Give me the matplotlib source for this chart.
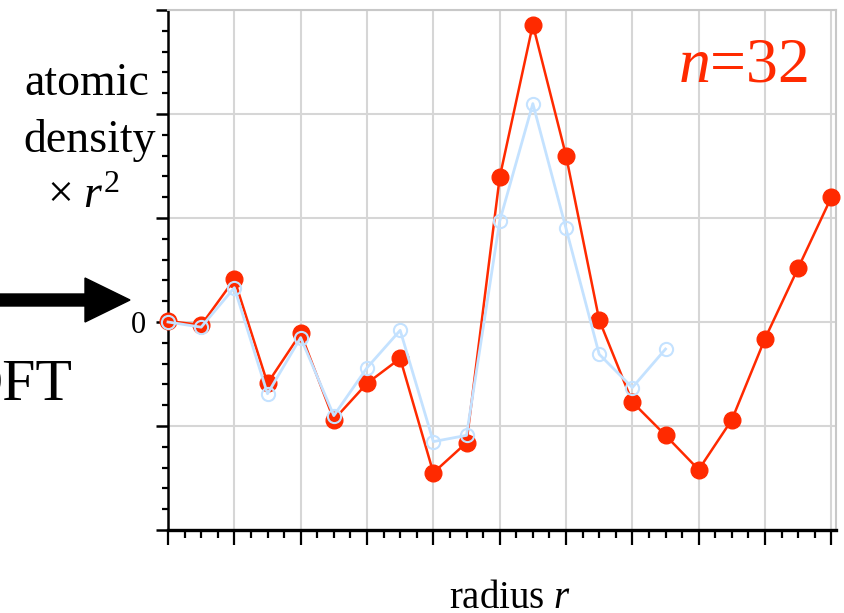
import matplotlib
matplotlib.use("Agg")
import matplotlib.pyplot as plt
from matplotlib.patches import Polygon
from matplotlib.ticker import MultipleLocator

# ---- data ----
radius_red = [i * 0.5 for i in range(21)]
density_red = [0.01, -0.03, 0.41, -0.59, -0.11, -0.94, -0.59, -0.35, -1.45, -1.16,
               1.39, 2.86, 1.60, 0.02, -0.77, -1.09, -1.42, -0.94, -0.16, 0.52, 1.20]
radius_blue = [i * 0.5 for i in range(16)]
density_blue = [0.00, -0.05, 0.33, -0.69, -0.15, -0.90, -0.44, -0.08, -1.15, -1.09,
                0.97, 2.10, 0.90, -0.31, -0.63, -0.26]
ytick_vals = [-2, -1, 0, 1, 2, 3]
ytick_labels = ['', '', '0', '', '', '']
xtick_vals = list(range(0, 11))

plt.rcParams['font.family'] = ['Liberation Serif', 'DejaVu Serif']
plt.rcParams['mathtext.fontset'] = 'custom'
plt.rcParams['mathtext.rm'] = 'Liberation Serif'
plt.rcParams['mathtext.it'] = 'Liberation Serif:italic'

W, H = 844, 613
fig = plt.figure(figsize=(W / 100, H / 100), dpi=100)

def fx(px):
    return px / W

def fy(py):
    return 1 - py / H

ax = fig.add_axes([fx(168), fy(530), fx(836) - fx(168), fy(10) - fy(530)])

RED = '#ff2a00'
BLUE = '#c4e2ff'

ax.plot(radius_red, density_red, color=RED, lw=1.8, marker='o', ms=12,
        mfc=RED, mec=RED, zorder=3, clip_on=False)
ax.plot(radius_blue, density_blue, color=BLUE, lw=2.0, marker='o', ms=9.5,
        mfc='none', mec=BLUE, mew=1.5, zorder=4, clip_on=False)

ax.set_xlim(0, 10.07)
ax.set_ylim(-2, 3)
ax.set_xticks(xtick_vals)
ax.set_xticklabels([''] * len(xtick_vals))
ax.xaxis.set_minor_locator(MultipleLocator(0.25))
ax.set_yticks(ytick_vals)
ax.set_yticklabels(ytick_labels)
ax.yaxis.set_minor_locator(MultipleLocator(0.2))

ax.grid(True, which='major', color='#d6d6d6', lw=1.5, zorder=0)
ax.set_axisbelow(True)

for s in ['left', 'bottom']:
    ax.spines[s].set_color('black')
ax.spines['left'].set_linewidth(1.8)
ax.spines['bottom'].set_linewidth(2.4)
for s in ['top', 'right']:
    ax.spines[s].set_color('#c8c8c8')
    ax.spines[s].set_linewidth(1.5)

ax.tick_params(axis='y', which='major', direction='out', length=9, width=1.8,
               labelsize=22, pad=7)
ax.tick_params(axis='y', which='minor', direction='out', length=4.5, width=1.6)
ax.tick_params(axis='x', which='major', direction='out', length=11, width=1.6)
ax.tick_params(axis='x', which='minor', direction='out', length=6, width=1.6)

# y label lines
fig.text(fx(87), fy(95), 'atomic', ha='center', va='baseline', fontsize=33)
fig.text(fx(90), fy(152), 'density', ha='center', va='baseline', fontsize=33)
fig.text(fx(83), fy(208), r'$\times\ r^{2}$', ha='center', va='baseline', fontsize=33)

# x label
fig.text(fx(510), fy(608), r'radius $r$', ha='center', va='baseline', fontsize=28)

# n=32
fig.text(fx(808), fy(82), r'$n$=32', ha='right', va='baseline', fontsize=46, color=RED)

# DFT text and arrow
fig.text(fx(72), fy(400), 'DFT', ha='right', va='baseline', fontsize=43)
arrow_px = [(0, 294), (85, 294), (85, 278), (130, 300), (85, 322), (85, 306), (0, 306)]
fig.patches.append(Polygon([(fx(x), fy(y)) for x, y in arrow_px], closed=True,
                           transform=fig.transFigure, facecolor='black',
                           edgecolor='black', figure=fig))

fig.savefig('out.png', dpi=100)
